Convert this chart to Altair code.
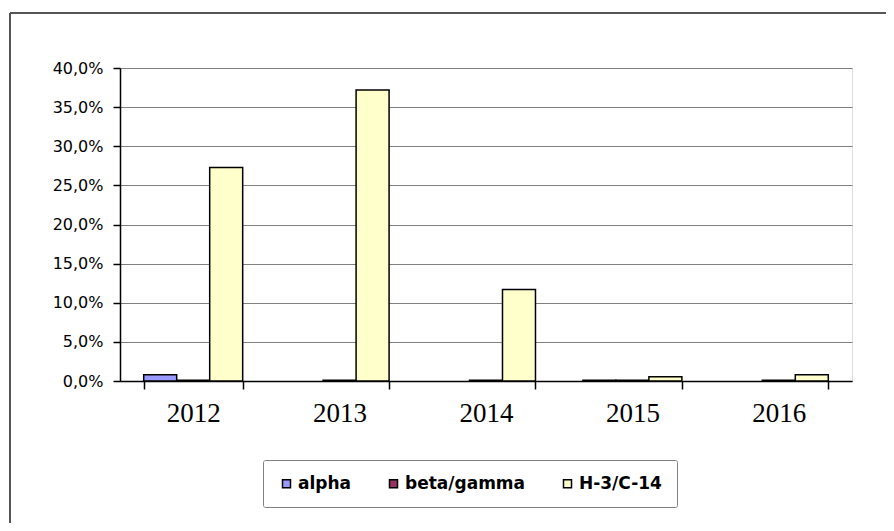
import altair as alt
import pandas as pd

years = ["2012", "2013", "2014", "2015", "2016"]
series_names = ["alpha", "beta/gamma", "H-3/C-14"]
alpha_vals = [0.008, 0.0, 0.0, 0.001, 0.0]
beta_vals = [0.001, 0.001, 0.001, 0.001, 0.001]
h3_vals = [0.273, 0.372, 0.117, 0.0055, 0.008]
colors = ["#9999FF", "#993366", "#FFFFCC"]
y_ticks = [0, 0.05, 0.10, 0.15, 0.20, 0.25, 0.30, 0.35, 0.40]

rows = []
for name, vals in zip(series_names, [alpha_vals, beta_vals, h3_vals]):
    for y, v in zip(years, vals):
        rows.append({"year": y, "series": name, "value": v})
df = pd.DataFrame(rows)

bars = alt.Chart(df).transform_filter("datum.value > 0").mark_bar(
    stroke="black", strokeWidth=1.5
).encode(
    x=alt.X("year:N", sort=years,
            scale=alt.Scale(paddingInner=0.324, paddingOuter=0.162),
            axis=alt.Axis(title=None, labelAngle=0, tickBand="extent", tickSize=8,
                          grid=False, domainColor="#000", domainWidth=1.5,
                          tickColor="#000", tickWidth=1.5,
                          labelFont="Liberation Serif", labelFontSize=27,
                          labelColor="#000", labelPadding=11)),
    xOffset=alt.XOffset("series:N", scale=alt.Scale(domain=series_names, paddingInner=0, paddingOuter=0)),
    y=alt.Y("value:Q", scale=alt.Scale(domain=[0, 0.4]),
            axis=alt.Axis(title=None, values=y_ticks, tickSize=7, tickColor="#000",
                          tickWidth=1.5, domainColor="#000", domainWidth=1.5,
                          gridColor="#808080", gridWidth=1.2,
                          labelFont="DejaVu Sans", labelFontSize=16, labelColor="#000",
                          labelPadding=10,
                          labelExpr="replace(format(datum.value, '.1%'), '.', ',')")),
    color=alt.Color("series:N", scale=alt.Scale(domain=series_names, range=colors),
                    legend=alt.Legend(title=None, orient="none", legendX=143, legendY=392,
                                      direction="horizontal", symbolType="square",
                                      symbolSize=64, symbolStrokeColor="black",
                                      symbolStrokeWidth=1.5,
                                      labelFont="DejaVu Sans", labelFontSize=17,
                                      labelFontWeight="bold", labelColor="#000",
                                      labelOffset=3, columnPadding=33, padding=15,
                                      strokeColor="#808080", fillColor="white",
                                      cornerRadius=2)),
)

one = alt.Data(values=[{"k": 1}])
border_top = alt.Chart(one).mark_rule(color="#555555", strokeWidth=2).encode(
    x=alt.value(-110), x2=alt.value(780), y=alt.value(-55))
border_left = alt.Chart(one).mark_rule(color="#555555", strokeWidth=2).encode(
    x=alt.value(-110), y=alt.value(-55), y2=alt.value(470))

chart = alt.layer(border_top, border_left, bars).properties(
    width=732, height=313,
    autosize=alt.AutoSizeParams(type="none"),
    padding={"left": 112, "top": 60, "right": 34, "bottom": 142},
).configure_view(stroke="#808080", strokeWidth=1.5).configure(background="white")

chart.save("out.html", embed_options={"renderer": "svg", "actions": False})
